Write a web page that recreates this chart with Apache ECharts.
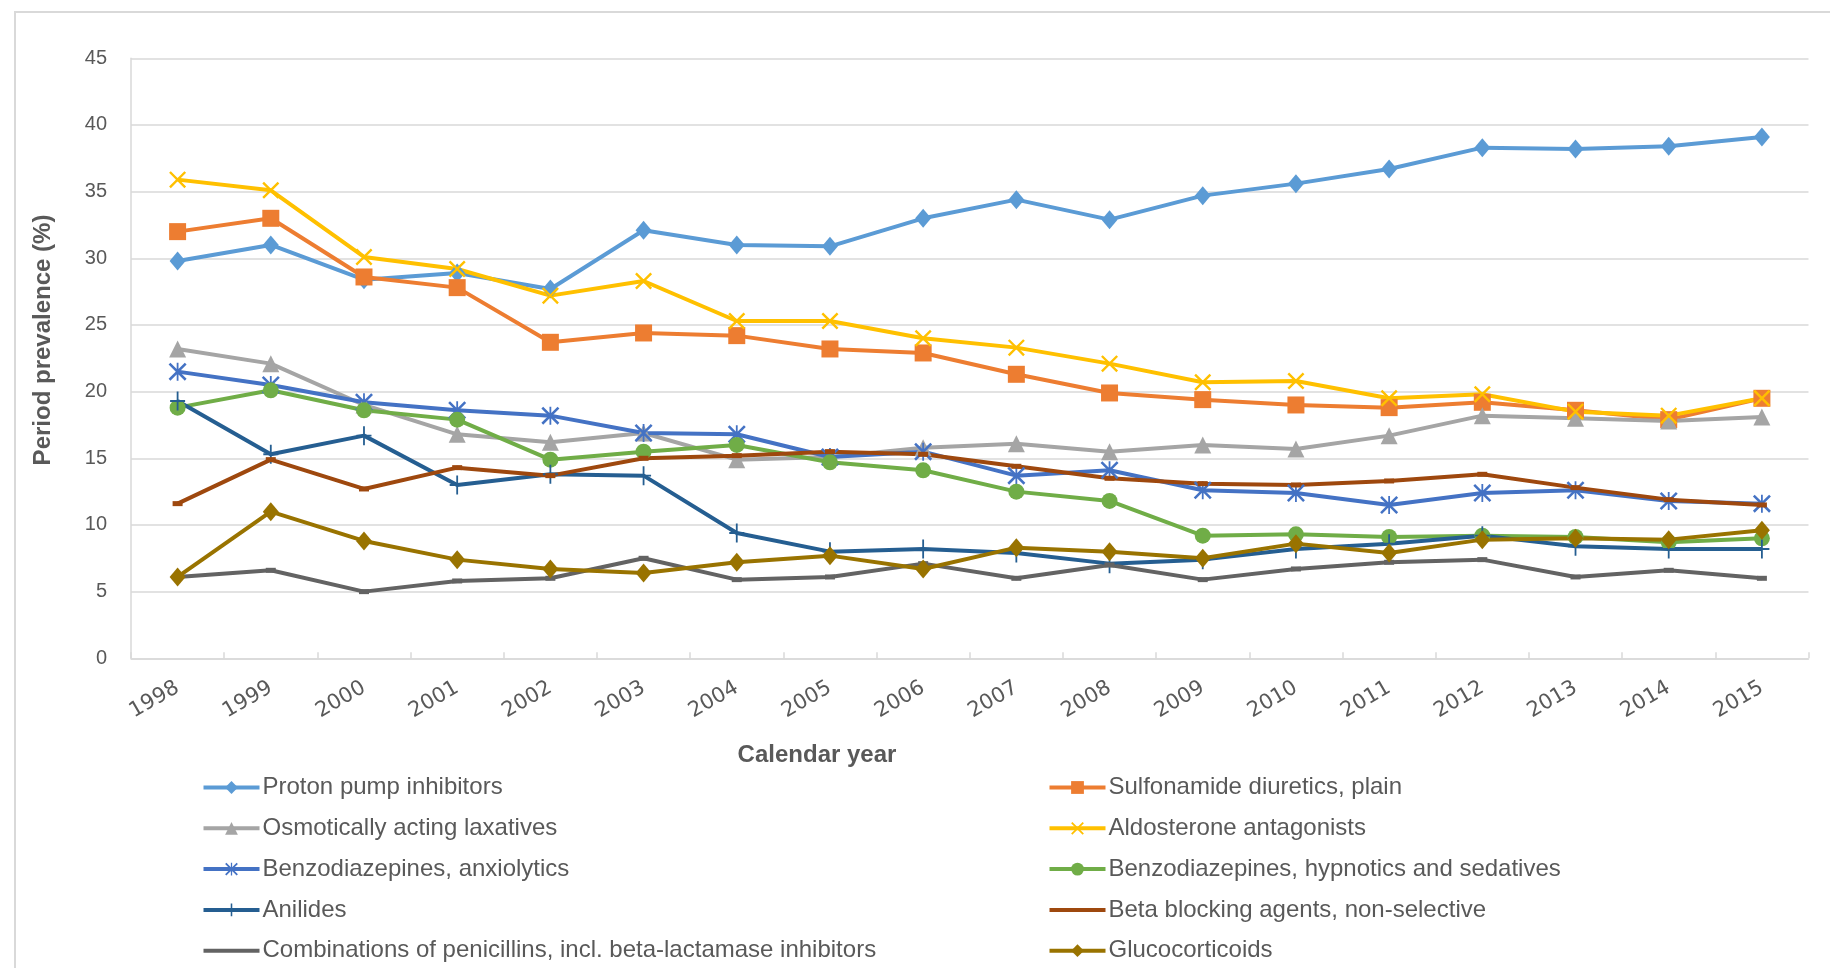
<!DOCTYPE html>
<html>
<head>
<meta charset="utf-8">
<script src="https://cdn.jsdelivr.net/npm/echarts@6/dist/echarts.min.js"></script>
<style>
  html, body { margin: 0; padding: 0; background: #fff; }
  #chart { width: 1830px; height: 968px; }
</style>
</head>
<body>
<div id="chart"></div>
<script>
const years = ['1998', '1999', '2000', '2001', '2002', '2003', '2004', '2005', '2006',
  '2007', '2008', '2009', '2010', '2011', '2012', '2013', '2014', '2015']

const protonPump = [29.8, 31.0, 28.4, 28.9, 27.7, 32.1, 31.0, 30.9, 33.0, 34.4, 32.9, 34.7, 35.6, 36.7, 38.3, 38.2, 38.4, 39.1]
const sulfonamide = [32.0, 33.0, 28.6, 27.8, 23.7, 24.4, 24.2, 23.2, 22.9, 21.3, 19.9, 19.4, 19.0, 18.8, 19.2, 18.6, 17.9, 19.5]
const osmotic = [23.2, 22.1, 19.0, 16.8, 16.2, 16.9, 14.9, 15.1, 15.8, 16.1, 15.5, 16.0, 15.7, 16.7, 18.2, 18.0, 17.8, 18.1]
const aldosterone = [35.9, 35.1, 30.1, 29.2, 27.2, 28.3, 25.3, 25.3, 24.0, 23.3, 22.1, 20.7, 20.8, 19.5, 19.8, 18.5, 18.2, 19.5]
const benzoAnx = [21.5, 20.5, 19.2, 18.6, 18.2, 16.9, 16.8, 15.1, 15.5, 13.7, 14.1, 12.6, 12.4, 11.5, 12.4, 12.6, 11.8, 11.6]
const benzoHyp = [18.8, 20.1, 18.6, 17.9, 14.9, 15.5, 16.0, 14.7, 14.1, 12.5, 11.8, 9.2, 9.3, 9.1, 9.2, 9.1, 8.7, 9.0]
const anilides = [19.3, 15.3, 16.7, 13.0, 13.8, 13.7, 9.4, 8.0, 8.2, 7.9, 7.1, 7.4, 8.2, 8.6, 9.2, 8.4, 8.2, 8.2]
const betaBlock = [11.6, 14.9, 12.7, 14.3, 13.7, 15.0, 15.2, 15.5, 15.3, 14.4, 13.5, 13.1, 13.0, 13.3, 13.8, 12.8, 11.9, 11.5]
const penicillins = [6.1, 6.6, 5.0, 5.8, 6.0, 7.5, 5.9, 6.1, 7.1, 6.0, 7.0, 5.9, 6.7, 7.2, 7.4, 6.1, 6.6, 6.0]
const glucocort = [6.1, 11.0, 8.8, 7.4, 6.7, 6.4, 7.2, 7.7, 6.7, 8.3, 8.0, 7.5, 8.6, 7.9, 8.9, 9.0, 8.9, 9.6]

const leftNames = ['Proton pump inhibitors', 'Osmotically acting laxatives', 'Benzodiazepines, anxiolytics',
  'Anilides', 'Combinations of penicillins, incl. beta-lactamase inhibitors']
const rightNames = ['Sulfonamide diuretics, plain', 'Aldosterone antagonists',
  'Benzodiazepines, hypnotics and sedatives', 'Beta blocking agents, non-selective', 'Glucocorticoids']
// these two have only a dash marker, which barely shows in the legend
const dashOnly = ['Beta blocking agents, non-selective', 'Combinations of penicillins, incl. beta-lactamase inhibitors']

// marker shapes
const crossX = 'path://M0,1L1,0L10,9L9,10Z M9,0L10,1L1,10L0,9Z'
const asterisk = 'path://M0,1L1,0L10,9L9,10Z M9,0L10,1L1,10L0,9Z M4.5,0L5.5,0L5.5,10L4.5,10Z'
const plus = 'path://M4.4,0L5.6,0L5.6,10L4.4,10Z M0,4.5L10,4.5L10,5.5L0,5.5Z'

const font = 'Liberation Sans, Arial, sans-serif'
const textColor = '#595959'
const gridColor = '#d9d9d9'

const mkLine = (name, data, color, symbol, symbolSize) => ({
  name,
  type: 'line',
  data,
  symbol,
  symbolSize,
  showAllSymbol: true,
  lineStyle: { color, width: 4 },
  itemStyle: { color },
  emphasis: { disabled: true },
  z: 2
})

const series = [
  mkLine('Proton pump inhibitors', protonPump, '#5B9BD5', 'diamond', [16, 19]),
  mkLine('Sulfonamide diuretics, plain', sulfonamide, '#ED7D31', 'rect', 17),
  mkLine('Osmotically acting laxatives', osmotic, '#A5A5A5', 'triangle', 17),
  mkLine('Aldosterone antagonists', aldosterone, '#FFC000', crossX, 17),
  mkLine('Benzodiazepines, anxiolytics', benzoAnx, '#4472C4', asterisk, 18),
  mkLine('Benzodiazepines, hypnotics and sedatives', benzoHyp, '#70AD47', 'circle', 16),
  mkLine('Anilides', anilides, '#255E91', plus, [15, 19]),
  mkLine('Beta blocking agents, non-selective', betaBlock, '#9E480E', 'rect', [10, 5]),
  mkLine('Combinations of penicillins, incl. beta-lactamase inhibitors', penicillins, '#636363', 'rect', [10, 5]),
  mkLine('Glucocorticoids', glucocort, '#997300', 'diamond', [16, 19])
]

const legendData = names => names.map(n => dashOnly.includes(n) ? { name: n, itemStyle: { opacity: 0 } } : { name: n })

const legendBase = {
  orient: 'vertical',
  top: 774.5,
  height: 192,
  padding: 0,
  itemWidth: 56,
  itemHeight: 16,
  itemGap: 14.8,
  selectedMode: false,
  lineStyle: { width: 4 },
  textStyle: { fontFamily: font, fontSize: 24, color: textColor, lineHeight: 26, padding: [0, 0, 0, -2] }
}

const chart = echarts.init(document.getElementById('chart'))
chart.setOption({
  animation: false,
  backgroundColor: '#fff',
  grid: { left: 131, right: 21.5, top: 58.3, bottom: 309.7, containLabel: false },
  legend: [
    Object.assign({}, legendBase, { left: 201.5, data: legendData(leftNames) }),
    Object.assign({}, legendBase, { left: 1047.5, data: legendData(rightNames) })
  ],
  xAxis: {
    type: 'category',
    data: years,
    boundaryGap: true,
    axisLine: { lineStyle: { color: gridColor, width: 1.5 } },
    axisTick: { show: true, inside: true, length: 6, lineStyle: { color: gridColor, width: 1.5 } },
    axisLabel: { rotate: 30, margin: 28, fontFamily: 'DejaVu Sans, sans-serif', fontSize: 21, color: textColor, interval: 0 }
  },
  yAxis: {
    type: 'value',
    min: 0,
    max: 45,
    interval: 5,
    axisLine: { show: true, lineStyle: { color: gridColor, width: 1.5 } },
    axisTick: { show: false },
    splitLine: { lineStyle: { color: gridColor, width: 1.5 } },
    axisLabel: { margin: 24, fontFamily: font, fontSize: 20, color: textColor }
  },
  graphic: [
    {
      type: 'rect',
      shape: { x: 15, y: 12, width: 1840, height: 990 },
      style: { fill: 'none', stroke: gridColor, lineWidth: 2 },
      silent: true
    },
    {
      type: 'text',
      x: 43, y: 340,
      rotation: Math.PI / 2,
      style: {
        text: 'Period prevalence (%)', fontFamily: font, fontSize: 24, fontWeight: 'bold',
        fill: textColor, align: 'center', verticalAlign: 'middle'
      }
    },
    {
      type: 'text',
      x: 817, y: 755,
      style: {
        text: 'Calendar year', fontFamily: font, fontSize: 24, fontWeight: 'bold',
        fill: textColor, align: 'center', verticalAlign: 'middle'
      }
    }
  ],
  series
})
</script>
</body>
</html>
